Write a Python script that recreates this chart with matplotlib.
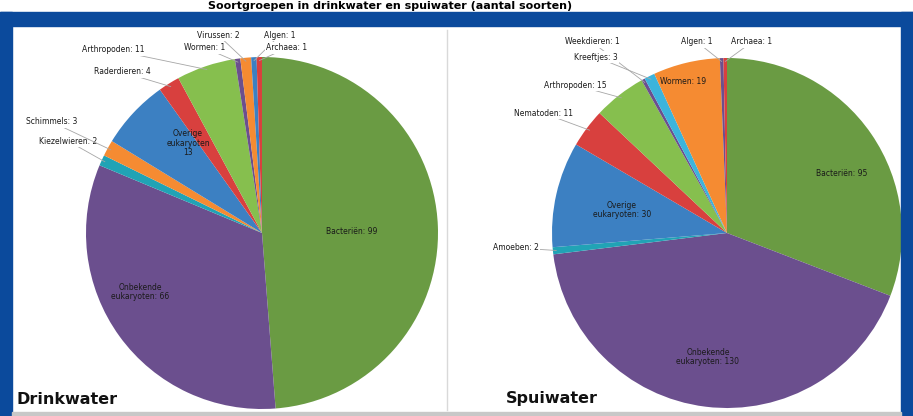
import numpy as np
import matplotlib
matplotlib.use("Agg")
import matplotlib.pyplot as plt
from matplotlib.patches import Rectangle

W, H = 913, 416

# Drinkwater, clockwise from 12 o'clock
drink_labels = ["Bacteriën", "Onbekende\neukaryoten", "Kiezelwieren", "Schimmels",
                "Overige\neukaryoten", "Raderdieren", "Arthropoden", "Wormen",
                "Virussen", "Algen", "Archaea"]
drink_values = [99, 66, 2, 3, 13, 4, 11, 1, 2, 1, 1]

# Spuiwater, clockwise from 12 o'clock
spui_labels = ["Bacteriën", "Onbekende\neukaryoten", "Amoeben", "Overige\neukaryoten",
               "Nematoden", "Arthropoden", "Weekdieren", "Kreeftjes", "Wormen",
               "Algen", "Archaea"]
spui_values = [95, 130, 2, 30, 11, 15, 1, 3, 19, 1, 1]

GREEN = "#6a9b43"
PURPLE = "#6b4f8e"
TEAL = "#21a3b5"
ORANGE = "#f58b32"
BLUE = "#3c80c2"
RED = "#d8403e"
LGREEN = "#86bf4e"
LBLUE = "#3cb4dc"

drink_colors = [GREEN, PURPLE, TEAL, ORANGE, BLUE, RED, LGREEN, PURPLE, ORANGE, BLUE, RED]
spui_colors = [GREEN, PURPLE, TEAL, BLUE, RED, LGREEN, PURPLE, LBLUE, ORANGE, PURPLE, RED]

# label placement per slice: (x px, y px, inside?)
drink_pos = [(352, 231, True), (140, 292, True), (68, 141, False), (52, 122, False),
             (188, 143, True), (122, 72, False), (113, 50, False), (205, 48, False),
             (218, 35, False), (280, 35, False), (287, 48, False)]
spui_pos = [(842, 173, True), (708, 357, True), (516, 248, False), (622, 210, True),
            (543, 113, False), (575, 85, False), (592, 42, False), (596, 57, False),
            (683, 82, True), (697, 42, False), (752, 42, False)]

fig = plt.figure(figsize=(W / 100, H / 100), dpi=100)
fig.patch.set_facecolor("white")

# blue frame
frame = "#0b4a9c"
fig.patches.append(Rectangle((0, 0), 12 / W, 1 - 12 / H, transform=fig.transFigure,
                             color=frame, zorder=0))
fig.patches.append(Rectangle((0, 1 - 26 / H), 1, 14 / H, transform=fig.transFigure,
                             color=frame, zorder=0))
fig.patches.append(Rectangle((1 - 12 / W, 0), 12 / W, 1 - 12 / H, transform=fig.transFigure,
                             color=frame, zorder=0))
fig.patches.append(Rectangle((12 / W, 0), 1 - 24 / W, 4 / H, transform=fig.transFigure,
                             color="#c8c8c8", zorder=0))
fig.add_artist(plt.Line2D([447 / W, 447 / W], [6 / H, 1 - 30 / H], transform=fig.transFigure,
                          color="#d9d9d9", lw=1))

# title in the thin strip above the frame
fig.text(390 / W, 1 - 6 / H, "Soortgroepen in drinkwater en spuiwater (aantal soorten)",
         ha="center", va="center", fontsize=8, fontweight="bold", color="black")


def draw_pie(cx, cy, r, values, labels, colors, pos, name):
    ax = fig.add_axes([(cx - r) / W, (H - cy - r) / H, 2 * r / W, 2 * r / H])
    wedges, _ = ax.pie(values, colors=colors, startangle=90, counterclock=False,
                       radius=1, wedgeprops=dict(linewidth=0))
    ax.set_xlim(-1, 1)
    ax.set_ylim(-1, 1)
    ax.axis("off")
    for w, lab, v, (px, py, inside) in zip(wedges, labels, values, pos):
        txt = f"{lab}: {v}"
        if lab == "Overige\neukaryoten" and name == "drink":
            txt = f"{lab}\n{v}"
        xt, yt = px / W, 1 - py / H
        if inside:
            fig.text(xt, yt, txt, ha="center", va="center", fontsize=5.5, color="#1a1a1a",
                     linespacing=1.1)
        else:
            mid = np.deg2rad((w.theta1 + w.theta2) / 2)
            ax.annotate(txt, xy=(0.98 * np.cos(mid), 0.98 * np.sin(mid)),
                        xytext=(xt, yt), textcoords="figure fraction",
                        ha="center", va="center", fontsize=5.5, color="#1a1a1a",
                        bbox=dict(boxstyle="square,pad=0.15", fc="white", ec="none"),
                        arrowprops=dict(arrowstyle="-", color="#a6a6a6", lw=0.6,
                                        shrinkA=0, shrinkB=0),
                        annotation_clip=False)
    return ax


draw_pie(262, 233, 176, drink_values, drink_labels, drink_colors, drink_pos, "drink")
draw_pie(727, 233, 175, spui_values, spui_labels, spui_colors, spui_pos, "spui")

fig.text(16 / W, 1 - 399 / H, "Drinkwater", ha="left", va="center", fontsize=11.5,
         fontweight="bold", color="#111111")
fig.text(506 / W, 1 - 398 / H, "Spuiwater", ha="left", va="center", fontsize=11.5,
         fontweight="bold", color="#111111")

fig.savefig("out.png", dpi=100)
